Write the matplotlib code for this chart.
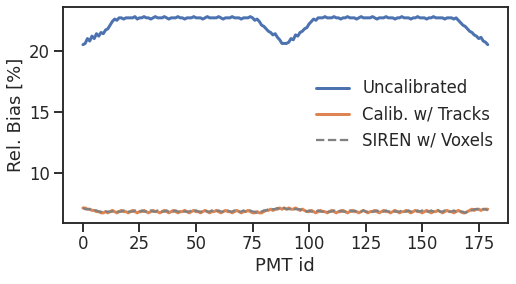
import numpy as np
import matplotlib
matplotlib.use("Agg")
import matplotlib.pyplot as plt
import seaborn as sns

# relative bias per PMT
uncalibrated = [
    20.5, 20.6, 21.0, 20.8, 21.2, 21.0, 21.4, 21.2, 21.5, 21.4,
    21.7, 21.8, 22.1, 22.4, 22.6, 22.5, 22.7, 22.7, 22.6, 22.7,
    22.7, 22.7, 22.7, 22.8, 22.6, 22.7, 22.7, 22.8, 22.7, 22.7,
    22.6, 22.7, 22.8, 22.7, 22.7, 22.7, 22.8, 22.7, 22.6, 22.7,
    22.7, 22.7, 22.8, 22.7, 22.7, 22.6, 22.7, 22.7, 22.7, 22.8,
    22.7, 22.7, 22.7, 22.6, 22.7, 22.8, 22.7, 22.7, 22.7, 22.7,
    22.8, 22.7, 22.6, 22.7, 22.7, 22.7, 22.8, 22.7, 22.7, 22.7,
    22.6, 22.7, 22.7, 22.7, 22.8, 22.7, 22.5, 22.6, 22.4, 22.1,
    22.0, 21.8, 21.6, 21.5, 21.3, 21.4, 21.1, 20.9, 20.6, 20.6,
    20.6, 20.7, 21.0, 20.9, 21.3, 21.2, 21.5, 21.6, 21.8, 21.9,
    22.2, 22.4, 22.6, 22.5, 22.7, 22.7, 22.7, 22.8, 22.7, 22.7,
    22.7, 22.8, 22.7, 22.7, 22.6, 22.7, 22.7, 22.8, 22.7, 22.7,
    22.7, 22.6, 22.7, 22.8, 22.7, 22.7, 22.7, 22.7, 22.8, 22.7,
    22.6, 22.7, 22.7, 22.7, 22.8, 22.7, 22.7, 22.7, 22.6, 22.7,
    22.7, 22.8, 22.7, 22.7, 22.7, 22.6, 22.7, 22.7, 22.8, 22.7,
    22.7, 22.7, 22.6, 22.7, 22.7, 22.8, 22.7, 22.7, 22.7, 22.7,
    22.6, 22.7, 22.7, 22.7, 22.6, 22.7, 22.5, 22.3, 22.1, 22.0,
    21.8, 21.6, 21.5, 21.3, 21.2, 21.0, 21.1, 20.8, 20.7, 20.5,
]
calib_tracks = [
    7.1, 7.1, 7.0, 7.0, 6.9, 6.9, 6.8, 6.8, 6.7, 6.7,
    6.8, 6.7, 6.8, 6.9, 6.8, 6.7, 6.8, 6.9, 6.8, 6.8,
    6.7, 6.8, 6.9, 6.8, 6.7, 6.8, 6.8, 6.9, 6.8, 6.7,
    6.8, 6.9, 6.8, 6.8, 6.7, 6.8, 6.9, 6.8, 6.7, 6.8,
    6.9, 6.8, 6.7, 6.8, 6.8, 6.9, 6.8, 6.7, 6.8, 6.9,
    6.8, 6.8, 6.7, 6.8, 6.9, 6.8, 6.7, 6.8, 6.8, 6.9,
    6.8, 6.7, 6.8, 6.9, 6.8, 6.8, 6.7, 6.8, 6.9, 6.8,
    6.7, 6.8, 6.8, 6.9, 6.8, 6.7, 6.7, 6.8, 6.7, 6.7,
    6.8, 6.9, 6.9, 7.0, 6.9, 7.0, 7.0, 7.1, 7.0, 7.1,
    7.0, 7.1, 7.0, 7.0, 7.1, 7.0, 6.9, 7.0, 6.9, 6.8,
    6.8, 6.9, 6.8, 6.7, 6.8, 6.9, 6.8, 6.8, 6.7, 6.8,
    6.9, 6.8, 6.7, 6.8, 6.8, 6.9, 6.8, 6.7, 6.8, 6.9,
    6.8, 6.8, 6.7, 6.8, 6.9, 6.8, 6.7, 6.8, 6.8, 6.9,
    6.8, 6.7, 6.8, 6.9, 6.8, 6.8, 6.7, 6.8, 6.9, 6.8,
    6.7, 6.8, 6.8, 6.9, 6.8, 6.7, 6.8, 6.9, 6.8, 6.8,
    6.7, 6.8, 6.9, 6.8, 6.7, 6.8, 6.8, 6.9, 6.8, 6.7,
    6.8, 6.9, 6.8, 6.8, 6.7, 6.8, 6.9, 6.8, 6.7, 6.7,
    6.8, 6.9, 7.0, 6.9, 7.0, 7.0, 6.9, 7.0, 7.0, 7.0,
]
siren_voxels = [
    7.1, 7.0, 7.0, 7.0, 6.9, 6.9, 6.9, 6.8, 6.8, 6.7,
    6.8, 6.8, 6.8, 6.8, 6.9, 6.8, 6.8, 6.8, 6.9, 6.8,
    6.8, 6.8, 6.8, 6.9, 6.8, 6.8, 6.9, 6.8, 6.8, 6.8,
    6.9, 6.8, 6.8, 6.9, 6.8, 6.8, 6.8, 6.9, 6.8, 6.8,
    6.8, 6.9, 6.8, 6.8, 6.9, 6.8, 6.8, 6.8, 6.9, 6.8,
    6.9, 6.8, 6.8, 6.8, 6.9, 6.8, 6.8, 6.9, 6.8, 6.8,
    6.9, 6.8, 6.8, 6.8, 6.9, 6.8, 6.8, 6.9, 6.8, 6.8,
    6.8, 6.9, 6.8, 6.8, 6.9, 6.8, 6.8, 6.7, 6.8, 6.8,
    6.9, 6.9, 7.0, 7.0, 7.0, 7.0, 7.1, 7.0, 7.1, 7.1,
    7.0, 7.0, 7.1, 7.0, 7.0, 7.0, 7.0, 6.9, 6.9, 6.8,
    6.9, 6.8, 6.8, 6.8, 6.9, 6.8, 6.8, 6.9, 6.8, 6.8,
    6.8, 6.9, 6.8, 6.8, 6.9, 6.8, 6.8, 6.8, 6.9, 6.8,
    6.9, 6.8, 6.8, 6.8, 6.9, 6.8, 6.8, 6.9, 6.8, 6.8,
    6.9, 6.8, 6.8, 6.8, 6.9, 6.8, 6.8, 6.9, 6.8, 6.8,
    6.8, 6.9, 6.8, 6.8, 6.9, 6.8, 6.8, 6.8, 6.9, 6.8,
    6.9, 6.8, 6.8, 6.8, 6.9, 6.8, 6.8, 6.9, 6.8, 6.8,
    6.9, 6.8, 6.8, 6.8, 6.9, 6.8, 6.8, 6.8, 6.8, 6.7,
    6.8, 6.9, 6.9, 7.0, 7.0, 7.0, 7.0, 7.0, 7.0, 6.9,
]
pmt_id = np.arange(len(uncalibrated))

sns.set_theme(style="ticks", context="talk")

fig = plt.figure(figsize=(516 / 72, 284 / 72), dpi=72)
ax = fig.add_subplot(111)
ax.plot(pmt_id, uncalibrated, lw=3, label="Uncalibrated")
ax.plot(pmt_id, calib_tracks, lw=3, label="Calib. w/ Tracks")
ax.plot(pmt_id, siren_voxels, "--", color="gray", label="SIREN w/ Voxels")
ax.set_xlabel("PMT id")
ax.set_ylabel("Rel. Bias [%]")
ax.set_xticks(np.arange(0, 180, 25))
ax.legend(frameon=False)
fig.subplots_adjust(left=0.1215, right=0.9845, top=0.976, bottom=0.216)
fig.savefig("out.png", dpi=72)
